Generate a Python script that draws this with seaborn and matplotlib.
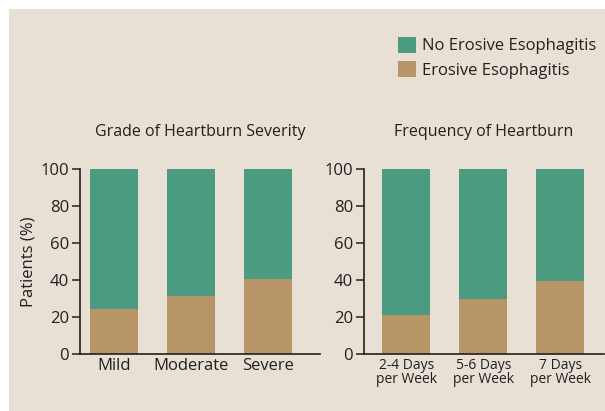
import matplotlib
matplotlib.use("Agg")
import matplotlib.pyplot as plt
import seaborn as sns
import pandas as pd
import numpy as np
from matplotlib.patches import Rectangle, Patch

# ---- data ----
severity_cats = ["Mild", "Moderate", "Severe"]
severity_ee = [24.5, 31.5, 40.5]
frequency_cats = ["2-4 Days\nper Week", "5-6 Days\nper Week", "7 Days\nper Week"]
frequency_ee = [21.0, 29.5, 39.5]
yticks = [0, 20, 40, 60, 80, 100]
series_names = ["No Erosive Esophagitis", "Erosive Esophagitis"]

GREEN = "#4A9B80"
BROWN = "#B89566"
BG = "#E9E0D5"
TXT = "#231F20"

sns.set_theme(style="white")
plt.rcParams['font.family'] = ['Open Sans', 'DejaVu Sans']

fig = plt.figure(figsize=(6.05, 4.11), dpi=100, facecolor="white")
fig.patches.append(Rectangle((9/605, 0), 1, 1 - 9/411, transform=fig.transFigure,
                             facecolor=BG, edgecolor="none", zorder=-10))

def panel(rect, cats, ee, title, xlim, ylabel=None, xfs=12, ls=1.0):
    ax = fig.add_axes(rect)
    ax.set_facecolor("none")
    ee = np.array(ee)
    no_ee = 100 - ee
    df = pd.DataFrame({"cat": cats, "ee": ee, "total": ee + no_ee})
    sns.barplot(data=df, x="cat", y="total", color=GREEN, width=0.62,
                saturation=1, ax=ax, linewidth=0)
    sns.barplot(data=df, x="cat", y="ee", color=BROWN, width=0.62,
                saturation=1, ax=ax, linewidth=0)
    ax.set_ylim(0, 100)
    ax.set_xlim(*xlim)
    ax.set_yticks(yticks)
    ax.set_yticklabels([str(v) for v in yticks], fontsize=12, color=TXT)
    ax.set_xticks(range(len(cats)))
    ax.set_xticklabels(cats, fontsize=xfs, color=TXT, linespacing=ls)
    ax.tick_params(axis="y", length=6, width=1.1, color=TXT, pad=2, left=True)
    ax.tick_params(axis="x", length=0, pad=3)
    for s in ["top", "right"]:
        ax.spines[s].set_visible(False)
    for s in ["left", "bottom"]:
        ax.spines[s].set_color(TXT)
        ax.spines[s].set_linewidth(1.2)
    ax.set_xlabel("")
    if ylabel:
        ax.set_ylabel(ylabel, fontsize=12, color=TXT, labelpad=2.5)
    else:
        ax.set_ylabel("")
    ax.set_title(title, fontsize=11.5, color=TXT, pad=23.5)
    return ax

ax1 = panel([80/605, 57/411, 240/605, 185/411], severity_cats, severity_ee,
            "Grade of Heartburn Severity", (-0.44, 2.67), ylabel="Patients (%)")
ax2 = panel([364/605, 57/411, 240/605, 185/411], frequency_cats, frequency_ee,
            "Frequency of Heartburn", (-0.55, 2.57), xfs=10, ls=0.85)

handles = [Patch(facecolor=GREEN, edgecolor="none"), Patch(facecolor=BROWN, edgecolor="none")]
fig.legend(handles, series_names, loc="upper left", bbox_to_anchor=(391/605, 1 - 30/411),
           frameon=False, fontsize=12, handlelength=1.1, handleheight=1.1,
           handletextpad=0.35, labelspacing=0.4, labelcolor=TXT, borderaxespad=0)

fig.savefig("out.png", dpi=100, facecolor="white")
